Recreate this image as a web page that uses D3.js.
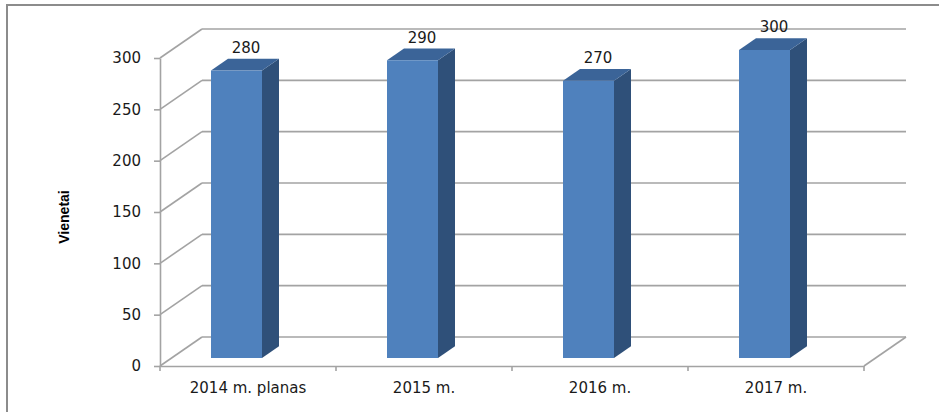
<!DOCTYPE html>
<html>
<head>
<meta charset="utf-8">
<script src="https://cdn.jsdelivr.net/npm/d3@7"></script>
<style>
  body { margin: 0; background: #fff; }
  svg { display: block; }
</style>
</head>
<body>
<div id="chart"></div>
<script>
/* 3D style column chart - Vienetai per metus */

const categories = ["2014 m. planas", "2015 m.", "2016 m.", "2017 m."];
const values = [280, 290, 270, 300];
const yTicks = [0, 50, 100, 150, 200, 250, 300];
const yLabel = "Vienetai";

// page layout
const width = 939,
      height = 412,
      margin = ({ top: 58, right: 75, bottom: 46, left: 160 });

// depth of the 3d box (back wall offset)
const depthX = 42, depthY = -29;

const svg = d3.select("#chart")
    .append("svg")
    .attr("width", width)
    .attr("height", height);

// outer frame, runs off the right/bottom edge like the original
svg.append("rect")
    .attr("x", 7).attr("y", 5)
    .attr("width", width + 20).attr("height", height + 20)
    .attr("fill", "none")
    .attr("stroke", "#8c8c8c")
    .attr("stroke-width", 2);

const x = d3.scaleBand()
    .domain(categories)
    .range([margin.left, width - margin.right])
    .padding(0);

const y = d3.scaleLinear()
    .domain([0, 300])
    .range([height - margin.bottom, margin.top]);

const grid = svg.append("g")
    .attr("stroke", "#a3a3a3")
    .attr("stroke-width", 1.6)
    .attr("fill", "none");

// back wall lines + the diagonals on the side wall
yTicks.forEach(v => {
    grid.append("line")
        .attr("x1", margin.left + depthX).attr("y1", y(v) + depthY)
        .attr("x2", width - margin.right + depthX).attr("y2", y(v) + depthY);
    grid.append("line")
        .attr("x1", margin.left).attr("y1", y(v))
        .attr("x2", margin.left + depthX).attr("y2", y(v) + depthY);
});

// right edge of the floor
grid.append("line")
    .attr("x1", width - margin.right).attr("y1", y(0))
    .attr("x2", width - margin.right + depthX).attr("y2", y(0) + depthY);

// y axis
const yAxis = svg.append("g")
    .attr("transform", `translate(${margin.left},0)`)
    .call(d3.axisLeft(y).tickValues(yTicks).tickSize(6).tickSizeOuter(0).tickPadding(13));

// x axis, labels only; boundary ticks drawn after
const xAxis = svg.append("g")
    .attr("transform", `translate(0,${y(0)})`)
    .call(d3.axisBottom(x).tickSize(0).tickSizeOuter(0).tickPadding(16));

xAxis.selectAll(".xb")
    .data([...categories.map(c => x(c)), x.range()[1]])
    .join("line")
    .attr("class", "xb")
    .attr("x1", d => d).attr("x2", d => d)
    .attr("y1", 0).attr("y2", 5);

[yAxis, xAxis].forEach(g => {
    g.selectAll("path, line").attr("stroke", "#a3a3a3").attr("stroke-width", 1.6);
    g.selectAll("text")
        .attr("fill", "#1a1a1a")
        .style("font-family", "DejaVu Sans, sans-serif")
        .style("font-size", "15px");
});

// y axis title
svg.append("text")
    .attr("transform", `translate(69,${(y(0) + y(300)) / 2 + 5}) rotate(-90)`)
    .attr("text-anchor", "middle")
    .style("font-family", "Liberation Sans, sans-serif")
    .style("font-size", "14px")
    .style("font-weight", "bold")
    .attr("fill", "#000")
    .text(yLabel);

// bars: front face sits a bit behind the floor edge
const barW = 51,
      barInset = 37,       // from band center to face left
      sinkY = 8,           // front face raised by the depth offset
      sideX = 17, sideY = -11.7;

const bar = svg.selectAll(".bar")
    .data(categories.map((c, i) => ({ cat: c, num: values[i] })))
    .join("g")
    .attr("class", "bar");

const barLeft = d => x(d.cat) + x.bandwidth() / 2 - barInset;
const barBase = () => y(0) - sinkY;
const barTop = d => y(d.num) - sinkY;

// side
bar.append("path")
    .attr("fill", "#2f5079")
    .attr("d", d => {
        const r = barLeft(d) + barW;
        return `M${r},${barTop(d)}L${r + sideX},${barTop(d) + sideY}L${r + sideX},${barBase() + sideY}L${r},${barBase()}Z`;
    });

// top
bar.append("path")
    .attr("fill", "#3b6498")
    .attr("d", d => {
        const l = barLeft(d), r = l + barW;
        return `M${l},${barTop(d)}L${l + sideX},${barTop(d) + sideY}L${r + sideX},${barTop(d) + sideY}L${r},${barTop(d)}Z`;
    });

// front
bar.append("rect")
    .attr("fill", "#4f81bd")
    .attr("x", d => barLeft(d))
    .attr("y", d => barTop(d))
    .attr("width", barW)
    .attr("height", d => barBase() - barTop(d));

// value labels
bar.append("text")
    .text(d => d.num)
    .attr("x", d => barLeft(d) + 35)
    .attr("y", d => barTop(d) + sideY - 6)
    .attr("text-anchor", "middle")
    .style("font-family", "DejaVu Sans, sans-serif")
    .style("font-size", "15px")
    .attr("fill", "#1a1a1a");
</script>
</body>
</html>
